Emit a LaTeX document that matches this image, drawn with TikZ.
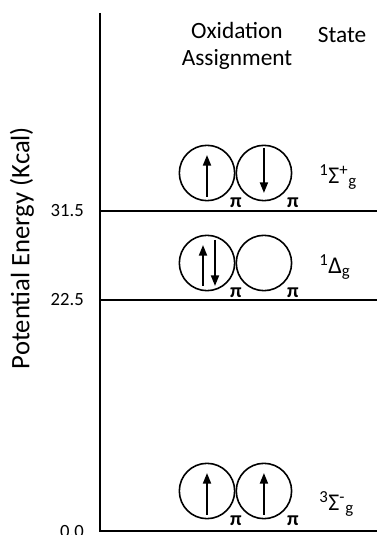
\documentclass[tikz,border=0pt]{standalone}
\usepackage{fontspec}
\setmainfont{Carlito}
\usetikzlibrary{arrows.meta, positioning, calc}

\begin{document}
\begin{tikzpicture}[
			x=0.75pt, y=0.75pt,
			level/.style={line width=1.5pt},
			orb/.style={circle, draw, line width=1.2pt, minimum size=41.5pt, inner sep=0pt},
			spin/.style={-{Triangle[length=8pt, width=6pt]}, line width=1.5pt},
			pilbl/.style={font=\fontsize{15}{17}\selectfont\bfseries, inner sep=0pt},
			tick/.style={anchor=east, font=\fontsize{14}{16}\selectfont, inner sep=0pt},
			term/.style={anchor=west, font=\fontsize{18}{20}\selectfont, inner sep=0pt},
			head/.style={align=center, font=\fontsize{17.5}{20.5}\selectfont, inner sep=0pt}
			]
			\useasboundingbox (0,0) rectangle (377,535);
			% axis and levels
			\coordinate (top) at (100,522);
			\coordinate (e0) at (100,4);
			\coordinate (e1) at (100,235);
			\coordinate (e2) at (100,324);
			\coordinate (e0r) at (377,4);
			\coordinate (e1r) at (377,235);
			\coordinate (e2r) at (377,324);
			\draw[level] (top) -- (e0) -- (e0r);
			\draw[level] (e1) -- (e1r);
			\draw[level] (e2) -- (e2r);
			\node[tick] (t2) at (84,324) {31.5};
			\node[tick] (t1) at (84,235) {22.5};
			\node[tick] (t0) at (84,3) {0.0};
			\node[rotate=90, font=\fontsize{20}{24}\selectfont] (ylbl) at (22,287) {Potential Energy (Kcal)};
			% headings
			\node[head] (oxi) at (237,489) {Oxidation\\Assignment};
			\node[head] (state) at (342,500) {State};
			% orbitals
			\node[orb] (a2) at (207,362) {};
			\node[orb, right=0pt of a2] (b2) {};
			\node[orb] (a1) at (207,272) {};
			\node[orb, right=0pt of a1] (b1) {};
			\node[orb] (a0) at (207,44) {};
			\node[orb, right=0pt of a0] (b0) {};
			\foreach \o in {a2,b2,a1,b1,a0,b0}
				\node[pilbl] (p\o) at ($(\o)+(29,-30)$) {π};
			% spins
			\draw[spin] ($(a2)+(0,-24)$) -- ($(a2)+(0,18)$);
			\draw[spin] ($(b2)+(0,25)$) -- ($(b2)+(0,-20)$);
			\draw[spin] ($(a1)+(-4,-23)$) -- ($(a1)+(-4,18)$);
			\draw[spin] ($(a1)+(8,23)$) -- ($(a1)+(8,-23)$);
			\draw[spin] ($(a0)+(0,-24)$) -- ($(a0)+(0,18)$);
			\draw[spin] ($(b0)+(0,-24)$) -- ($(b0)+(0,18)$);
			% states
			\node[term] (s2) at (319,358) {\textsuperscript{1}Σ\textsuperscript{+}\textsubscript{g}};
			\node[term] (s1) at (319,268) {\textsuperscript{1}Δ\textsubscript{g}};
			\node[term] (s0) at (319,31) {\textsuperscript{3}Σ\textsuperscript{-}\textsubscript{g}};
		\end{tikzpicture}
\end{document}
